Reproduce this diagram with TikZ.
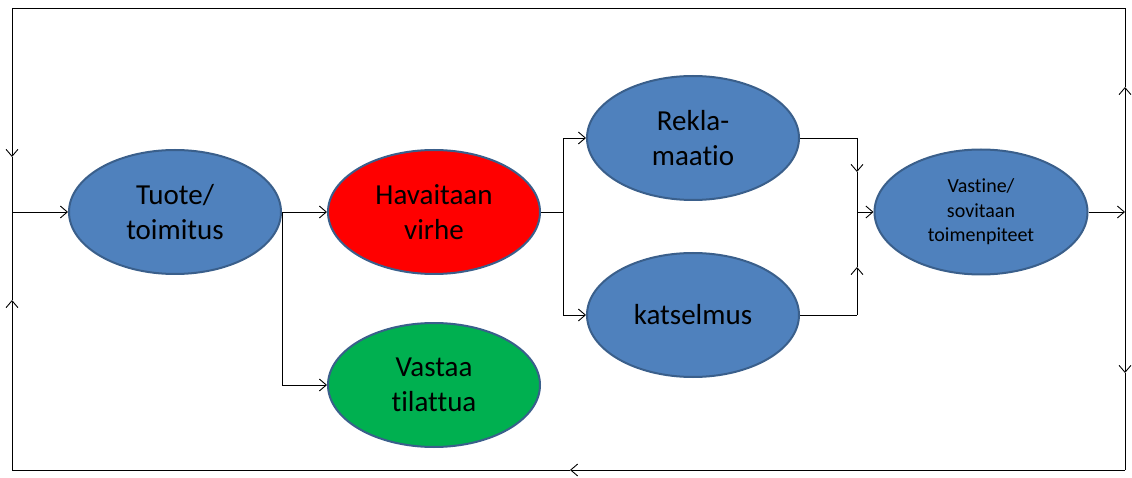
\documentclass[tikz,border=0pt]{standalone}
\usepackage{fontspec}
\setmainfont{Carlito}[Ligatures=NoCommon]
\usepackage{xcolor}
\usepackage{tikz}
\usetikzlibrary{positioning, shapes.geometric, arrows.meta, calc}

\definecolor{boxblue}{HTML}{4F81BD}
\definecolor{edgeblue}{HTML}{3A5F8B}
\definecolor{boxred}{HTML}{FF0000}
\definecolor{boxgreen}{HTML}{00B050}

\tikzset{
  oval/.style={ellipse, draw=edgeblue, line width=2pt, fill=boxblue,
    minimum width=212pt, minimum height=124pt, inner sep=0pt, align=center,
    font=\fontsize{29}{35}\selectfont},
  flow/.style={line width=0.9pt, black},
  tip/.style={flow, -{Straight Barb[length=7pt, width=12pt]}}
}

\begin{document}
\begin{tikzpicture}[x=1pt, y=1pt]
      \useasboundingbox (0,0) rectangle (1132,477);

      % Ovals
      \node[oval] (tuote) at (175,265) {Tuote/\\toimitus};
      \node[oval, fill=boxred] (virhe) at (434,265) {Havaitaan\\virhe};
      \node[oval, fill=boxgreen] (vastaa) at (434,92) {Vastaa\\tilattua};
      \node[oval] (rekla) at (693,339) {Rekla-\\maatio};
      \node[oval] (katsel) at (693,162) {katselmus};
      \node[oval, minimum width=213pt, minimum height=125pt,
        font=\fontsize{20}{24.5}\selectfont] (vastine) at (981,265)
        {Vastine/\\sovitaan\\toimenpiteet};

      % Points on the lines
      \coordinate (split) at (563,265);
      \coordinate (mtop) at (857,339);
      \coordinate (mdown) at (857,305);
      \coordinate (mmid) at (857,265);
      \coordinate (mup) at (857,210);
      \coordinate (mbot) at (857,162);
      \coordinate (rtop) at (1125,469);
      \coordinate (rup) at (1125,390);
      \coordinate (rmid) at (1125,265);
      \coordinate (rdown) at (1125,104);
      \coordinate (rbot) at (1125,7);
      \coordinate (bmid) at (570,7);
      \coordinate (lbot) at (12,7);
      \coordinate (lup) at (12,177);
      \coordinate (lmid) at (12,265);
      \coordinate (ldown) at (12,320);
      \coordinate (ltop) at (12,469);

      % Main flow
      \draw[tip] (tuote.east) -- (virhe.west);
      \draw[tip] (tuote.east) |- (vastaa.west);
      \draw[flow] (virhe.east) -- (split);
      \draw[tip] (split) |- (rekla.west);
      \draw[tip] (split) |- (katsel.west);

      % Merge
      \draw[flow] (rekla.east) -- (mtop);
      \draw[tip] (mtop) -- (mdown);
      \draw[flow] (mdown) -- (mmid);
      \draw[flow] (katsel.east) -- (mbot);
      \draw[tip] (mbot) -- (mup);
      \draw[flow] (mup) -- (mmid);
      \draw[tip] (mmid) -- (vastine.west);

      % Feedback loop
      \draw[tip] (vastine.east) -- (rmid);
      \draw[tip] (rmid) -- (rup);
      \draw[flow] (rup) -- (rtop) -- (ltop);
      \draw[tip] (ltop) -- (ldown);
      \draw[flow] (ldown) -- (lmid);
      \draw[tip] (rmid) -- (rdown);
      \draw[flow] (rdown) -- (rbot);
      \draw[tip] (rbot) -- (bmid);
      \draw[flow] (bmid) -- (lbot);
      \draw[tip] (lbot) -- (lup);
      \draw[flow] (lup) -- (lmid);
      \draw[tip] (lmid) -- (tuote.west);
    \end{tikzpicture}
\end{document}
